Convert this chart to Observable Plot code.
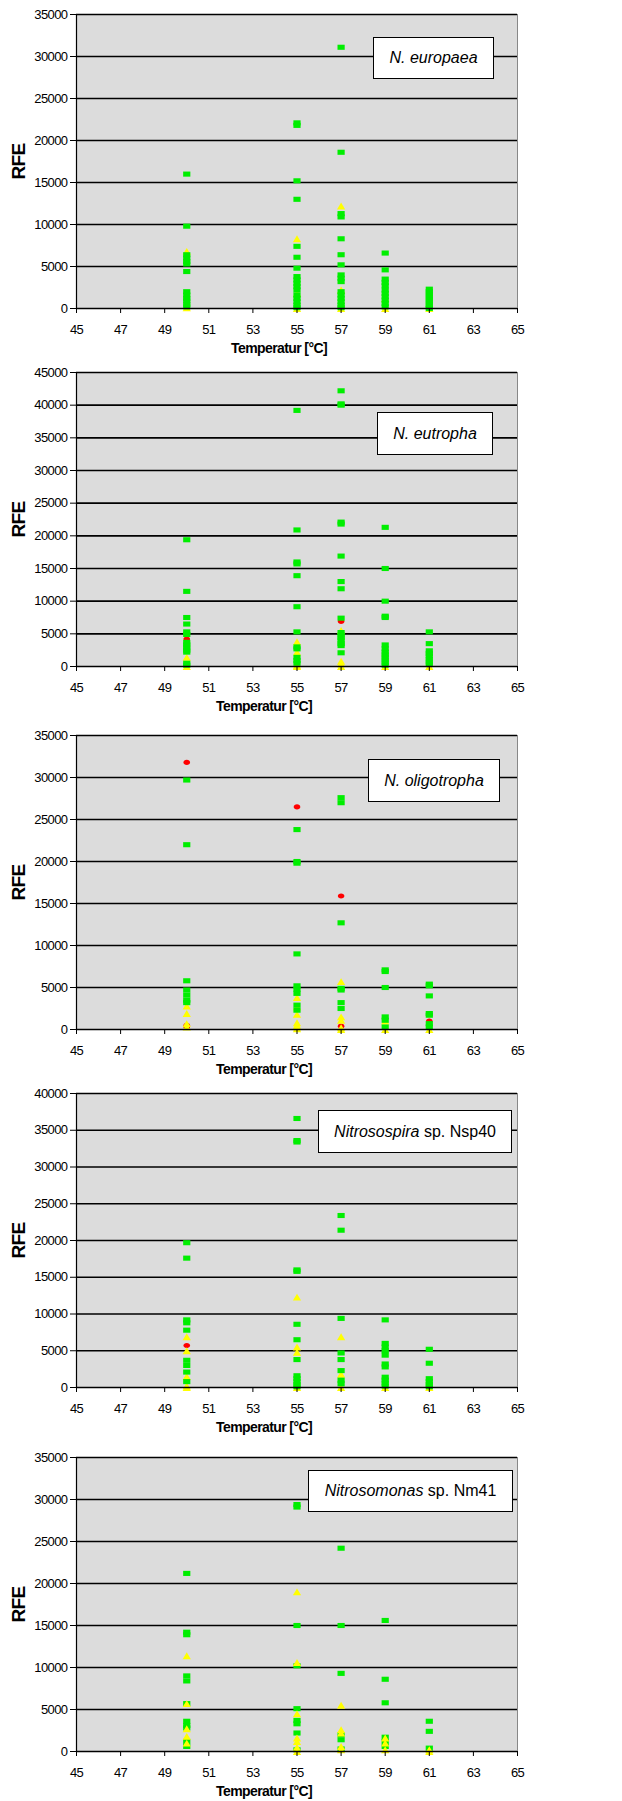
<!DOCTYPE html>
<html>
<head>
<meta charset="utf-8">
<script src="https://cdn.jsdelivr.net/npm/d3@7"></script>
<script src="https://cdn.jsdelivr.net/npm/@observablehq/plot@0.6"></script>
<style>
  body { margin: 0; background: #fff; }
  #root { position: relative; width: 622px; height: 1801px; font-family: Arial, "Liberation Sans", sans-serif; }
  .panel { position: absolute; left: 0; width: 622px; }
  .panel svg text { letter-spacing: -0.6px; }
  .box { position: absolute; background: #fff; border: 1.5px solid #000; box-sizing: border-box;
         display: flex; align-items: center; justify-content: center; font-size: 16px; color: #000;
         font-family: Arial, "Liberation Sans", sans-serif; white-space: pre; }
</style>
</head>
<body>
<div id="root"></div>
<script>
// ---------- data (temperature °C, RFE values) ----------
const xTicks = [45, 47, 49, 51, 53, 55, 57, 59, 61, 63, 65];
const xLabel = "Temperatur [°C]";
const yLabel = "RFE";
const speciesNames = ["N. europaea", "N. eutropha", "N. oligotropha", "Nitrosospira sp. Nsp40", "Nitrosomonas sp. Nm41"];
const yMaxima = [35000, 45000, 35000, 40000, 35000];

const europaeaGreen = [
  [50, [16000, 9800, 6400, 6000, 5600, 5300, 4400, 2000, 1600, 1200, 900, 500, 200]],
  [55, [22100, 21800, 15200, 13000, 7400, 6100, 4800, 3800, 3400, 3000, 2600, 2200, 1600, 1200, 800, 400, 100]],
  [57, [31100, 18600, 11300, 10900, 8300, 6400, 5200, 4000, 3600, 3200, 2000, 1600, 1200, 800, 400, 100]],
  [59, [6600, 4600, 3500, 3100, 2700, 2200, 1800, 1400, 1000, 600, 200]],
  [61, [2300, 2000, 1700, 1400, 1100, 800, 500, 200, 0]]
];
const europaeaYellow = [[50, [6800, 100]], [55, [8300, 1800, 0]], [57, [12200, 2200, 0]], [59, [1200, 0]], [61, [0]]];
const europaeaRed = [[55, [0]]];

const eutrophaGreen = [
  [50, [19400, 11500, 7500, 6500, 5300, 4900, 3700, 3300, 2900, 2500, 2200, 500, 200]],
  [55, [39200, 20900, 16000, 15700, 13900, 9150, 5300, 3000, 2700, 1400, 900, 500]],
  [57, [42200, 40200, 40000, 22100, 21800, 16900, 13000, 11900, 7400, 5200, 4800, 4400, 4000, 3500, 3200, 2100]],
  [59, [21300, 15000, 10000, 7700, 7500, 3300, 2700, 2200, 1800, 1400, 1000, 600, 200]],
  [61, [5300, 3500, 2400, 2000, 1600, 1100, 700, 300]]
];
const eutrophaYellow = [[50, [1400, 0]], [55, [3800, 2200, 200, 0]], [57, [5500, 800, 400, 0]], [59, [0]], [61, [0]]];
const eutrophaRed = [[50, [4200]], [57, [6900]]];

const oligotrophaGreen = [
  [50, [29700, 22000, 5800, 4700, 4100, 3500, 3200]],
  [55, [23800, 20000, 19800, 9000, 5200, 4800, 4300, 2900, 2300]],
  [57, [27600, 27000, 12700, 4900, 4700, 3200, 2500]],
  [59, [7100, 6900, 5000, 1500, 1100, 300]],
  [61, [5400, 5200, 4000, 1900, 1700, 700, 300]]
];
const oligotrophaYellow = [[50, [2800, 1900, 700, 300]], [55, [3800, 2700, 1800, 800, 500, 300, 100]], [57, [5700, 1500, 1100, 200, 0]], [59, [1000, 0]], [61, [0]]];
const oligotrophaRed = [[50, [31800, 500, 300]], [55, [26500]], [57, [15900, 400]], [61, [1000]]];

const nsp40Green = [
  [50, [19700, 17600, 9200, 8800, 7800, 3700, 3000, 2100, 800]],
  [55, [36600, 33600, 33400, 16000, 15800, 8600, 6500, 3800, 1600, 1200, 800, 400, 100]],
  [57, [23400, 21400, 9400, 4700, 3800, 2300, 1000, 500]],
  [59, [9200, 6000, 5500, 5000, 4400, 3200, 2800, 1400, 1000, 600, 200]],
  [61, [5200, 3300, 1200, 800, 400, 100]]
];
const nsp40Yellow = [[50, [6900, 5000, 1500, 200, 0]], [55, [12300, 5500, 4800, 0]], [57, [6900, 1800, 0]], [59, [0]], [61, [0]]];
const nsp40Red = [[50, [5700]]];

const nm41Green = [
  [50, [21200, 14200, 13900, 9000, 8400, 5700, 3600, 3100, 2800, 1200, 600]],
  [55, [29400, 29100, 15000, 10200, 5100, 3700, 3300, 2200, 200]],
  [57, [24200, 15000, 9300, 2000, 1400, 300]],
  [59, [15600, 8600, 5800, 1700, 1200, 600]],
  [61, [3600, 2400, 400]]
];
const nm41Yellow = [[50, [11400, 5700, 2700, 1800, 1000]], [55, [19000, 10600, 4500, 1600, 1200, 500, 0]], [57, [5500, 2600, 2200, 600, 200]], [59, [1600, 1000, 200]], [61, [200, 0]]];
const nm41Red = [];

const seriesGreen = [europaeaGreen, eutrophaGreen, oligotrophaGreen, nsp40Green, nm41Green];
const seriesYellow = [europaeaYellow, eutrophaYellow, oligotrophaYellow, nsp40Yellow, nm41Yellow];
const seriesRed = [europaeaRed, eutrophaRed, oligotrophaRed, nsp40Red, nm41Red];

// ---------- layout (not data) ----------
const panelTop = [0, 358, 721, 1079, 1443];
const titleDx = [-18, -33, -33, -33, -33];
const yellowOnTop = [false, false, false, false, true];
const boxes = [
  {left: 373, top: 37, width: 121, height: 42},
  {left: 377, top: 412, width: 116, height: 43},
  {left: 368, top: 759, width: 132, height: 43},
  {left: 318, top: 1110, width: 194, height: 43},
  {left: 308, top: 1470, width: 205, height: 42}
];

// ---------- helpers ----------
const flat = (groups) => groups.flatMap(([t, vs]) => vs.map(v => ({t, v})));
const rOf = (size) => Math.sqrt(size / Math.PI);
const rectSymbol = {draw(ctx, size) { const r = rOf(size), w = 1.2 * r, h = 0.85 * r;
  ctx.moveTo(-w, -h); ctx.lineTo(w, -h); ctx.lineTo(w, h); ctx.lineTo(-w, h); ctx.closePath(); }};
const triSymbol = {draw(ctx, size) { const r = rOf(size), w = 1.25 * r, h = 1.05 * r;
  ctx.moveTo(0, -h); ctx.lineTo(w, h); ctx.lineTo(-w, h); ctx.closePath(); }};
const ellSymbol = {draw(ctx, size) { const r = rOf(size), a = 1.1 * r, b = 0.85 * r, k = 0.5523;
  ctx.moveTo(a, 0);
  ctx.bezierCurveTo(a, k * b, k * a, b, 0, b);
  ctx.bezierCurveTo(-k * a, b, -a, k * b, -a, 0);
  ctx.bezierCurveTo(-a, -k * b, -k * a, -b, 0, -b);
  ctx.bezierCurveTo(k * a, -b, a, -k * b, a, 0);
  ctx.closePath(); }};

const root = document.getElementById("root");

speciesNames.forEach((name, i) => {
  const yMax = yMaxima[i];
  const yTicks = d3.range(0, yMax + 1, 5000);
  const green = Plot.dot(flat(seriesGreen[i]), {x: "t", y: "v", symbol: rectSymbol, r: 3, fill: "#00ee00", stroke: "none"});
  const yellow = Plot.dot(flat(seriesYellow[i]), {x: "t", y: "v", symbol: triSymbol, r: 3.3, fill: "#ffff00", stroke: "none"});
  const red = Plot.dot(flat(seriesRed[i]), {x: "t", y: "v", symbol: ellSymbol, r: 3, fill: "#ff0000", stroke: "none"});
  const chart = Plot.plot({
    width: 622,
    height: 358,
    marginTop: 14,
    marginBottom: 50,
    marginLeft: 76,
    marginRight: 105,
    style: {fontFamily: "Arial, 'Liberation Sans', sans-serif", background: "transparent", color: "#000", overflow: "visible"},
    x: {domain: [45, 65]},
    y: {domain: [0, yMax]},
    marks: [
      Plot.frame({fill: "#dcdcdc", stroke: "#888"}),
      Plot.ruleY(yTicks.filter(d => d > 0), {stroke: "#000", strokeWidth: 1.6}),
      red,
      ...(yellowOnTop[i] ? [green, yellow] : [yellow, green]),
      Plot.ruleY([0], {stroke: "#000", strokeWidth: 1.6}),
      Plot.ruleX([45], {stroke: "#000", strokeWidth: 1.2}),
      Plot.axisY({ticks: yTicks, tickSize: 6, tickPadding: 3, fontSize: 13, label: null, tickFormat: d => String(d)}),
      Plot.axisX({ticks: xTicks, tickSize: 5, tickPadding: 11, fontSize: 13, label: null, tickFormat: d => String(d)}),
      Plot.text([xLabel], {text: d => d, frameAnchor: "bottom", dy: 40, dx: titleDx[i], fontSize: 14, fontWeight: "bold", textAnchor: "middle", lineAnchor: "middle"}),
      Plot.text([yLabel], {text: d => d, frameAnchor: "left", dx: -58, rotate: -90, fontSize: 19, fontWeight: "bold", textAnchor: "middle", lineAnchor: "middle"})
    ]
  });
  const wrap = document.createElement("div");
  wrap.className = "panel";
  wrap.style.top = panelTop[i] + "px";
  wrap.appendChild(chart);
  root.appendChild(wrap);

  const b = boxes[i];
  const box = document.createElement("div");
  box.className = "box";
  Object.assign(box.style, {left: b.left + "px", top: b.top + "px", width: b.width + "px", height: b.height + "px"});
  const m = name.match(/^(\S+) (sp\..*)$/);
  const span = document.createElement("span");
  if (m) {
    const it = document.createElement("i");
    it.textContent = m[1];
    span.appendChild(it);
    span.appendChild(document.createTextNode("\u00a0" + m[2]));
  } else {
    const it = document.createElement("i");
    it.textContent = name;
    span.appendChild(it);
  }
  box.appendChild(span);
  root.appendChild(box);
});
</script>
</body>
</html>
